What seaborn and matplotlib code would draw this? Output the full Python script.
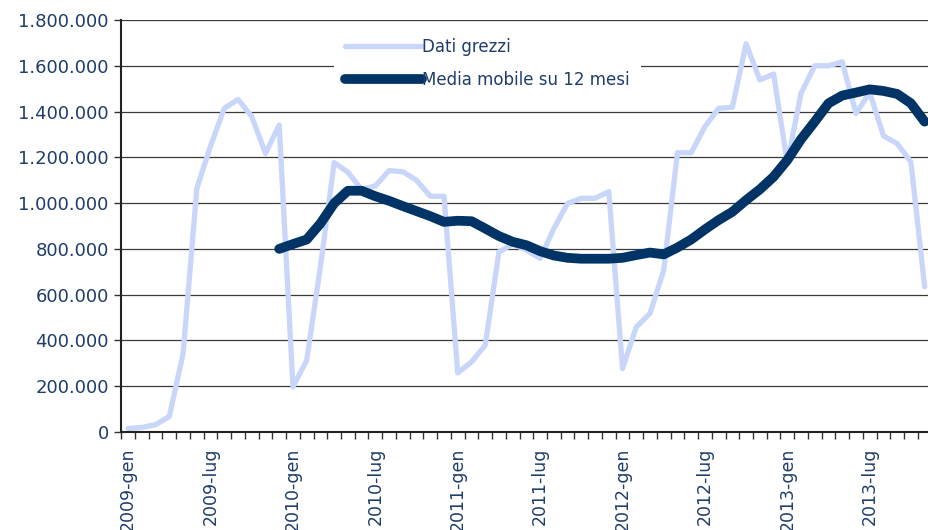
import matplotlib
matplotlib.use("Agg")
import matplotlib.pyplot as plt
import matplotlib.ticker as mticker
import numpy as np
import pandas as pd
import seaborn as sns

# monthly categories 2009-gen .. 2013-nov
MONTHS_IT = ["gen", "feb", "mar", "apr", "mag", "giu",
             "lug", "ago", "set", "ott", "nov", "dic"]
months = [f"{y}-{m}" for y in range(2009, 2014) for m in MONTHS_IT][:59]

raw_values = [
    15000, 20000, 32000, 68000, 343000, 1064000, 1250000, 1414000, 1453000, 1378000,
    1217000, 1341000, 197000, 313000, 722000, 1177000, 1135000, 1060000, 1075000, 1142000,
    1137000, 1100000, 1030000, 1030000, 258000, 306000, 379000, 787000, 821000, 795000,
    758000, 889000, 999000, 1021000, 1021000, 1050000, 277000, 459000, 518000, 707000,
    1220000, 1220000, 1334000, 1414000, 1419000, 1696000, 1538000, 1564000, 1175000, 1480000,
    1600000, 1600000, 1617000, 1392000, 1483000, 1294000, 1260000, 1180000, 635000,
]

moving_avg = [np.nan] * 11 + [
    800000, 821000, 841000, 911000, 999000, 1054000, 1054000, 1030000, 1010000,
    987000, 965000, 943000, 918000, 923000, 921000, 889000, 856000, 831000, 816000,
    790000, 771000, 761000, 757000, 757000, 757000, 761000, 773000, 784000, 776000,
    806000, 841000, 885000, 926000, 962000, 1013000, 1060000, 1115000, 1188000, 1279000,
    1356000, 1436000, 1470000, 1483000, 1497000, 1490000, 1477000, 1436000, 1356000,
]

NAVY = "#003366"
LIGHT = "#c8d6f9"
TEXT = "#1f3d6b"

df = pd.DataFrame({"idx": np.arange(len(months)), "raw": raw_values, "ma": moving_avg})

sns.set_theme(style="white")
plt.rcParams["font.family"] = ["DejaVu Sans"]

fig = plt.figure(figsize=(9.29, 5.30), dpi=100)
ax = fig.add_axes([121.3 / 929, 1 - 432 / 530, (931.5 - 121.3) / 929, 412 / 530])

for y in np.arange(200000, 1800001, 200000):
    ax.axhline(y, color="#3a3a3a", lw=0.9, zorder=0)

sns.lineplot(data=df, x="idx", y="raw", ax=ax, color=LIGHT, lw=3.8,
             label="Dati grezzi", zorder=2)
sns.lineplot(data=df, x="idx", y="ma", ax=ax, color=NAVY, lw=7,
             label="Media mobile su 12 mesi", zorder=3,
             solid_capstyle="round", solid_joinstyle="round")

ax.set_xlim(-0.5, 58.5)
ax.set_ylim(0, 1800000)
ax.set_xlabel("")
ax.set_ylabel("")

ax.yaxis.set_major_locator(mticker.MultipleLocator(200000))
ax.yaxis.set_major_formatter(mticker.FuncFormatter(lambda v, _: f"{int(v):,}".replace(",", ".")))
ax.set_xticks(np.arange(0, len(months), 6))
ax.set_xticklabels(months[::6], rotation=90)
ax.set_xticks(np.arange(-0.5, len(months), 1), minor=True)

ax.tick_params(axis="x", which="major", length=0, pad=11, labelsize=12.5, labelcolor=TEXT)
ax.tick_params(axis="x", which="minor", length=5, width=1, color="#333333", direction="out", bottom=True)
ax.tick_params(axis="y", which="major", length=5, width=1, color="#333333", direction="out",
               left=True, labelsize=13, labelcolor=TEXT, pad=4)

for side in ["top", "right"]:
    ax.spines[side].set_visible(False)
for side in ["left", "bottom"]:
    ax.spines[side].set_color("#222222")
    ax.spines[side].set_linewidth(1.5)

leg = ax.legend(loc="upper left", bbox_to_anchor=(0.262, 0.985), fontsize=12,
                frameon=True, fancybox=False, handlelength=4.6, handletextpad=0.0,
                borderpad=0.7, borderaxespad=0, labelspacing=0.9)
leg.get_frame().set_edgecolor("none")
leg.get_frame().set_facecolor("white")
leg.get_frame().set_alpha(1)
for t in leg.get_texts():
    t.set_color(TEXT)

fig.savefig("out.png", dpi=100)
